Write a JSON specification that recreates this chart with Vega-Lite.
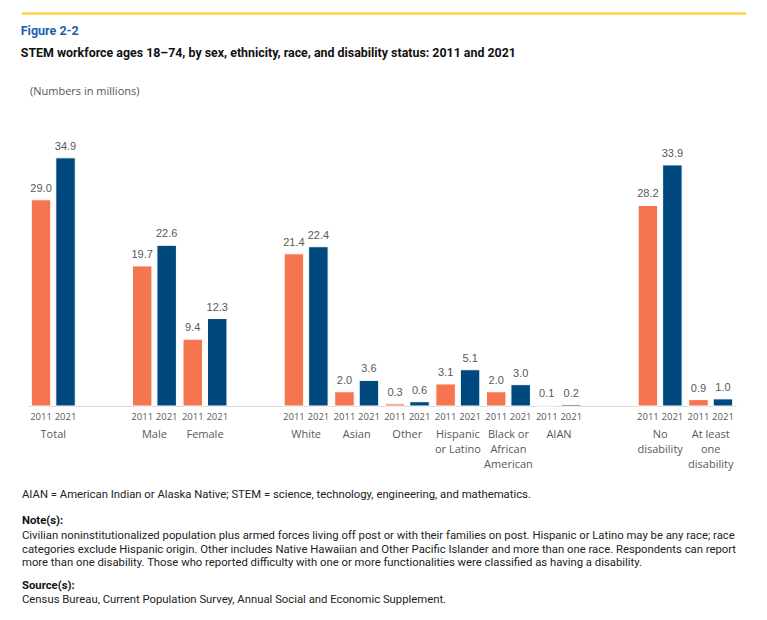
{
  "$schema": "https://vega.github.io/schema/vega-lite/v6.json",
  "padding": {"left": 20, "top": 12, "right": 0, "bottom": 0},
  "background": "white",
  "config": {"view": {"stroke": null}},
  "datasets": {
    "bars": [
      {"cat": "Total", "year": "2011", "value": 29.0},
      {"cat": "Total", "year": "2021", "value": 34.9},
      {"cat": "Male", "year": "2011", "value": 19.7},
      {"cat": "Male", "year": "2021", "value": 22.6},
      {"cat": "Female", "year": "2011", "value": 9.4},
      {"cat": "Female", "year": "2021", "value": 12.3},
      {"cat": "White", "year": "2011", "value": 21.4},
      {"cat": "White", "year": "2021", "value": 22.4},
      {"cat": "Asian", "year": "2011", "value": 2.0},
      {"cat": "Asian", "year": "2021", "value": 3.6},
      {"cat": "Other", "year": "2011", "value": 0.3},
      {"cat": "Other", "year": "2021", "value": 0.6},
      {"cat": "Hispanic or Latino", "year": "2011", "value": 3.1},
      {"cat": "Hispanic or Latino", "year": "2021", "value": 5.1},
      {"cat": "Black or African American", "year": "2011", "value": 2.0},
      {"cat": "Black or African American", "year": "2021", "value": 3.0},
      {"cat": "AIAN", "year": "2011", "value": 0.1},
      {"cat": "AIAN", "year": "2021", "value": 0.2},
      {"cat": "No disability", "year": "2011", "value": 28.2},
      {"cat": "No disability", "year": "2021", "value": 33.9},
      {"cat": "At least one disability", "year": "2011", "value": 0.9},
      {"cat": "At least one disability", "year": "2021", "value": 1.0}
    ],
    "cats": [
      {"cat": "Total", "label": "Total"},
      {"cat": "Male", "label": "Male"},
      {"cat": "Female", "label": "Female"},
      {"cat": "White", "label": "White"},
      {"cat": "Asian", "label": "Asian"},
      {"cat": "Other", "label": "Other"},
      {"cat": "Hispanic or Latino", "label": "Hispanic|or Latino"},
      {"cat": "Black or African American", "label": "Black or|African|American"},
      {"cat": "AIAN", "label": "AIAN"},
      {"cat": "No disability", "label": "No|disability"},
      {"cat": "At least one disability", "label": "At least|one|disability"}
    ]
  },
  "spacing": 19,
  "vconcat": [
    {
      "spacing": 25,
      "vconcat": [
        {
          "width": 724,
          "height": 1,
          "data": {"values": [{}]},
          "mark": {"type": "rule", "color": "#FFD23F", "strokeWidth": 2.5},
          "encoding": {"x": {"value": 0}, "x2": {"value": 724}, "y": {"value": 0.5}},
          "title": {
            "text": "Figure 2-2",
            "orient": "bottom",
            "anchor": "start",
            "offset": 10,
            "font": "Roboto",
            "fontSize": 12.5,
            "fontWeight": "bold",
            "color": "#1B5FAA",
            "subtitle": "STEM workforce ages 18\u201374, by sex, ethnicity, race, and disability status: 2011 and 2021",
            "subtitleFont": "Roboto",
            "subtitleFontSize": 12.4,
            "subtitleFontWeight": "bold",
            "subtitleColor": "#111111",
            "subtitlePadding": 10
          }
        },
        {
          "width": 725,
          "height": 256,
          "title": {
            "text": "(Numbers in millions)",
            "anchor": "start",
            "font": "Open Sans",
            "fontSize": 11,
            "fontWeight": "normal",
            "color": "#555555",
            "offset": 44,
            "dx": 8
          },
          "data": {"name": "bars"},
          "encoding": {
            "x": {
              "field": "cat",
              "type": "nominal",
              "sort": null,
              "scale": {
                "domain": ["Total", "gap1", "Male", "Female", "gap2", "White", "Asian", "Other", "Hispanic or Latino", "Black or African American", "AIAN", "gap3", "No disability", "At least one disability"],
                "range": [6, 714],
                "paddingInner": 0,
                "paddingOuter": 0
              },
              "axis": {"title": null, "labels": false, "ticks": false, "domainColor": "#d9d9d9", "domainWidth": 1}
            }
          },
          "layer": [
            {
              "mark": {"type": "bar", "stroke": "white", "strokeWidth": 1},
              "encoding": {
                "xOffset": {"field": "year", "type": "nominal", "scale": {"paddingInner": 0.204, "paddingOuter": 0.135}},
                "y": {"field": "value", "type": "quantitative", "scale": {"domain": [0, 36], "nice": false}, "axis": null},
                "color": {"field": "year", "type": "nominal", "scale": {"domain": ["2011", "2021"], "range": ["#F4754E", "#00497F"]}, "legend": null}
              }
            },
            {
              "mark": {"type": "text", "baseline": "alphabetic", "dy": -8, "font": "Liberation Sans", "fontSize": 11, "color": "#595959"},
              "encoding": {
                "xOffset": {"field": "year", "type": "nominal"},
                "y": {"field": "value", "type": "quantitative"},
                "text": {"field": "value", "type": "quantitative", "format": ".1f"}
              }
            },
            {
              "mark": {"type": "text", "baseline": "alphabetic", "dy": 14, "font": "Open Sans", "fontSize": 9.5, "color": "#595959"},
              "encoding": {
                "xOffset": {"field": "year", "type": "nominal"},
                "y": {"datum": 0},
                "text": {"field": "year", "type": "nominal"}
              }
            },
            {
              "data": {"name": "cats"},
              "mark": {"type": "text", "baseline": "alphabetic", "dy": 32, "font": "Open Sans", "fontSize": 11, "lineHeight": 15, "lineBreak": "|", "color": "#595959"},
              "encoding": {
                "y": {"datum": 0},
                "text": {"field": "label", "type": "nominal"}
              }
            }
          ]
        }
      ]
    },
    {
      "spacing": 2,
      "vconcat": [
        {
          "width": 725,
          "height": 1,
          "data": {"values": [{}]},
          "mark": {"type": "text", "text": ""},
          "encoding": {},
          "title": {
            "text": "AIAN = American Indian or Alaska Native; STEM = science, technology, engineering, and mathematics.",
            "anchor": "start",
            "offset": 0,
            "font": "Roboto",
            "fontSize": 11.3,
            "fontWeight": "normal",
            "color": "#222222"
          }
        },
        {
          "width": 725,
          "height": 1,
          "data": {"values": [{}]},
          "mark": {"type": "text", "text": ""},
          "encoding": {},
          "title": {
            "text": "Note(s):",
            "anchor": "start",
            "offset": -3,
            "font": "Roboto",
            "fontSize": 11.3,
            "fontWeight": "bold",
            "color": "#111111",
            "subtitle": [
              "Civilian noninstitutionalized population plus armed forces living off post or with their families on post. Hispanic or Latino may be any race; race",
              "categories exclude Hispanic origin. Other includes Native Hawaiian and Other Pacific Islander and more than one race. Respondents can report",
              "more than one disability. Those who reported difficulty with one or more functionalities were classified as having a disability."
            ],
            "subtitleFont": "Roboto",
            "subtitleFontSize": 11.3,
            "subtitleFontWeight": "normal",
            "subtitleColor": "#222222",
            "subtitleLineHeight": 13.5,
            "subtitlePadding": 4
          }
        },
        {
          "width": 725,
          "height": 1,
          "data": {"values": [{}]},
          "mark": {"type": "text", "text": ""},
          "encoding": {},
          "title": {
            "text": "Source(s):",
            "anchor": "start",
            "offset": 0,
            "font": "Roboto",
            "fontSize": 11.3,
            "fontWeight": "bold",
            "color": "#111111",
            "subtitle": "Census Bureau, Current Population Survey, Annual Social and Economic Supplement.",
            "subtitleFont": "Roboto",
            "subtitleFontSize": 11.3,
            "subtitleFontWeight": "normal",
            "subtitleColor": "#222222",
            "subtitlePadding": 3
          }
        }
      ]
    }
  ]
}
